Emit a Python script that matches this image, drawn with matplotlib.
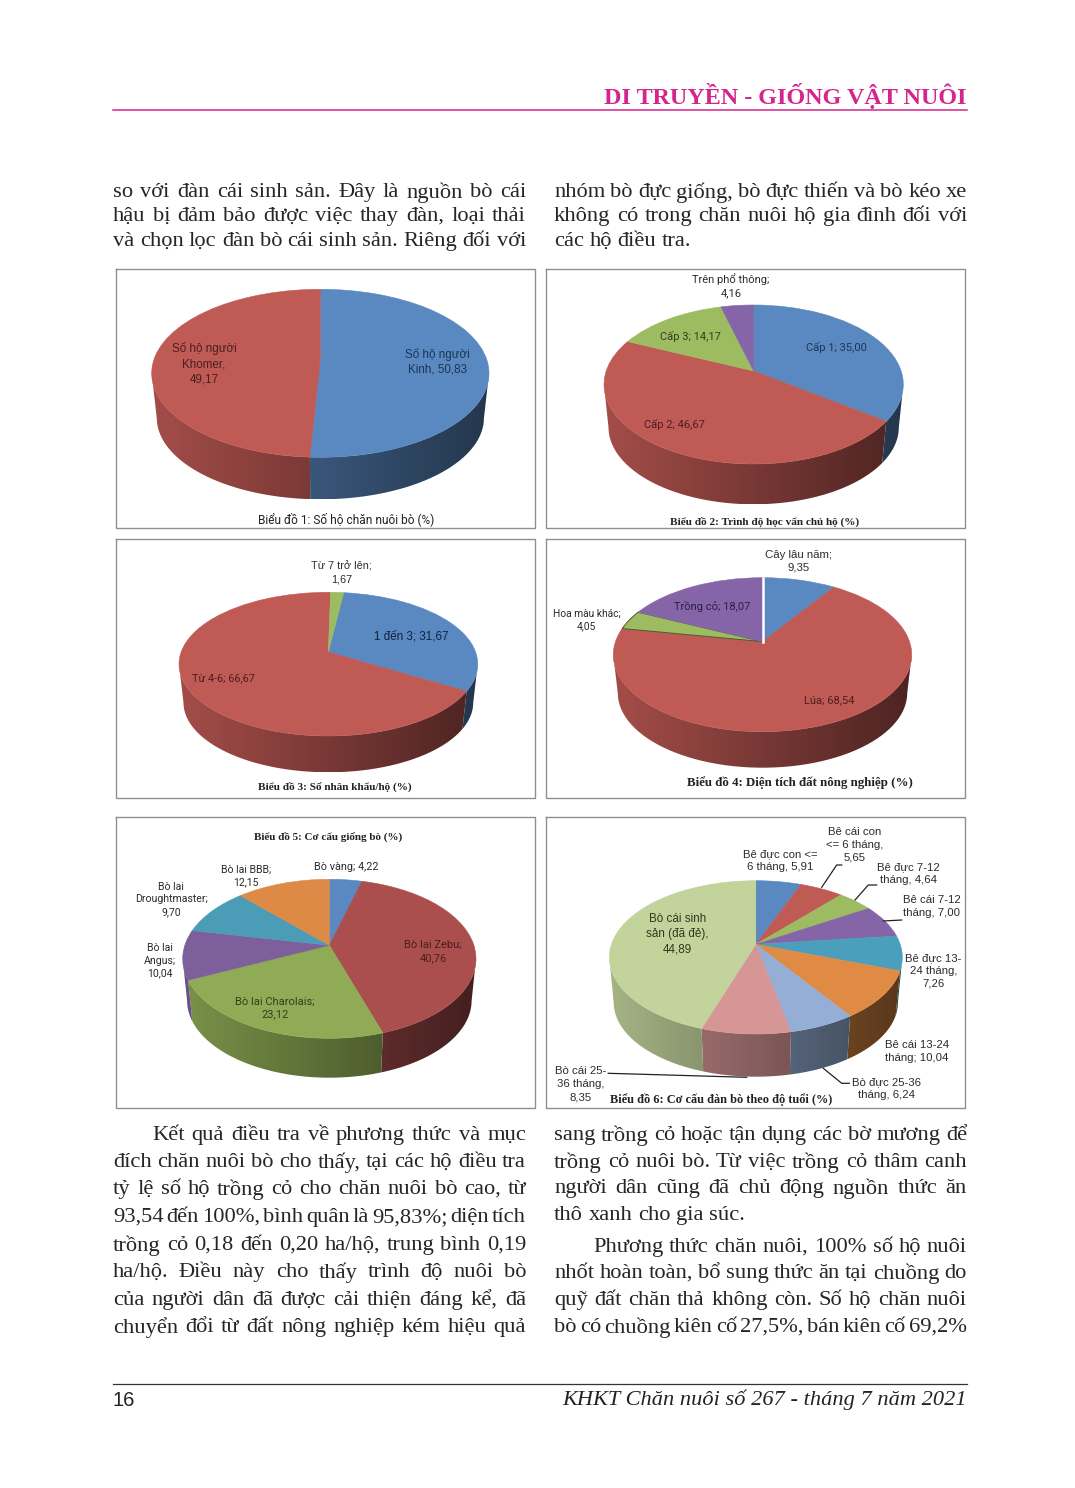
import numpy as np
import matplotlib
matplotlib.use('Agg')
import matplotlib.pyplot as plt
from matplotlib.patches import Polygon
from matplotlib.transforms import Transform, IdentityTransform

# page text
header_text = 'DI TRUYỀN - GIỐNG VẬT NUÔI'
footer_left = '16'
footer_right = 'KHKT Chăn nuôi số 267 - tháng 7 năm 2021'
top_col1 = ['so với đàn cái sinh sản. Đây là nguồn bò cái',
            'hậu bị đảm bảo được việc thay đàn, loại thải',
            'và chọn lọc đàn bò cái sinh sản. Riêng đối với']
top_col2 = ['nhóm bò đực giống, bò đực thiến và bò kéo xe',
            'không có trong chăn nuôi hộ gia đình đối với',
            'các hộ điều tra.']
bottom_col1 = ['Kết quả điều tra về phương thức và mục',
               'đích chăn nuôi bò cho thấy, tại các hộ điều tra',
               'tỷ lệ số hộ trồng cỏ cho chăn nuôi bò cao, từ',
               '93,54 đến 100%, bình quân là 95,83%; diện tích',
               'trồng cỏ 0,18 đến 0,20 ha/hộ, trung bình 0,19',
               'ha/hộ. Điều này cho thấy trình độ nuôi bò',
               'của người dân đã được cải thiện đáng kể, đã',
               'chuyển đổi từ đất nông nghiệp kém hiệu quả']
bottom_col2 = ['sang trồng cỏ hoặc tận dụng các bờ mương để',
               'trồng cỏ nuôi bò. Từ việc trồng cỏ thâm canh',
               'người dân cũng đã chủ động nguồn thức ăn',
               'thô xanh cho gia súc.',
               'Phương thức chăn nuôi, 100% số hộ nuôi',
               'nhốt hoàn toàn, bổ sung thức ăn tại chuồng do',
               'quỹ đất chăn thả không còn. Số hộ chăn nuôi',
               'bò có chuồng kiên cố 27,5%, bán kiên cố 69,2%']

# chart data
BLUE, RED, GREEN, PURPLE = '#5a88c0', '#c05a55', '#9dbb61', '#8565a8'
TEAL, ORANGE, LBLUE, PINK, LGREEN = '#4aa0bc', '#e08b45', '#95aed5', '#d69696', '#c2d39c'

values1 = [50.83, 49.17]
colors1 = [BLUE, RED]
values2 = [35.00, 46.67, 14.17, 4.16]
colors2 = [BLUE, RED, GREEN, PURPLE]
values3 = [31.67, 66.67, 1.67]
colors3 = [BLUE, RED, GREEN]
values4 = [9.35, 68.54, 4.05, 18.07]
colors4 = [BLUE, RED, GREEN, PURPLE]
values5 = [4.22, 40.76, 23.12, 10.04, 9.70, 12.15]
colors5 = [BLUE, '#aa4f4e', '#8fab55', '#7d5f9c', '#4b9cb6', '#dc8a45']
values6 = [5.91, 5.65, 4.64, 7.00, 7.26, 10.04, 6.24, 8.35, 44.89]
colors6 = [BLUE, RED, GREEN, PURPLE, TEAL, ORANGE, LBLUE, PINK, LGREEN]

# pie box on the page: left, right, top, bottom of top face, bottom of wall, first slice angle
boxes = [(151.7, 489.0, 289.3, 457.3, 499.3, 0),
         (604.0, 903.3, 305.0, 464.0, 504.3, 0),
         (179.0, 477.7, 592.3, 736.0, 772.3, 7),
         (613.3, 911.7, 577.7, 731.7, 767.7, 0),
         (182.7, 476.0, 879.3, 1038.3, 1077.7, 0),
         (609.3, 902.3, 880.7, 1034.0, 1076.7, 0)]
frames = [(116, 535, 269, 528), (546, 965, 269, 528),
          (116, 535, 539, 798), (546, 965, 539, 798),
          (116, 535, 817, 1108), (546, 965, 817, 1108)]

DARK_RED, DARK_BLUE, DARK = '#4a1f1e', '#1c3556', '#2b2b2b'
ARIAL, CALIBRI, SERIF = 'Liberation Sans', 'Roboto', 'Liberation Serif'

# text, x, y, colour, font, size
labels = [
    ('Số hộ người\nKhomer,\n49,17', 204, 364, DARK_RED, ARIAL, 8.4),
    ('Số hộ người\nKinh, 50,83', 437.7, 361.7, DARK_BLUE, ARIAL, 8.4),
    ('Trên phổ thông;\n4,16', 731, 285.7, DARK, CALIBRI, 8.0),
    ('Cấp 3; 14,17', 690.7, 336, '#33401c', CALIBRI, 8.0),
    ('Cấp 1; 35,00', 836.7, 347.7, DARK_BLUE, CALIBRI, 8.0),
    ('Cấp 2; 46,67', 674, 425, DARK_RED, CALIBRI, 8.0),
    ('Từ 7 trở lên;\n1,67', 341.7, 573, DARK, ARIAL, 7.8),
    ('1 đến 3; 31,67', 411.7, 636.7, '#10233f', ARIAL, 8.4),
    ('Từ 4-6; 66,67', 223, 678, DARK_RED, CALIBRI, 7.8),
    ('Cây lâu năm;\n9,35', 799, 561, DARK, ARIAL, 8.2),
    ('Trồng cỏ; 18,07', 711.7, 606.7, '#2e1f45', CALIBRI, 8.0),
    ('Hoa màu khác;\n4,05', 586.7, 620, DARK, CALIBRI, 7.4),
    ('Lúa; 68,54', 829.3, 700.7, DARK_RED, CALIBRI, 8.0),
    ('Bò vàng; 4,22', 346, 867.3, DARK, CALIBRI, 7.8),
    ('Bò lai BBB;\n12,15', 245.7, 876, DARK, CALIBRI, 7.6),
    ('Bò lai\nDroughtmaster;\n9,70', 171, 899.3, DARK, CALIBRI, 7.6),
    ('Bò lai\nAngus;\n10,04', 160, 960.7, DARK, CALIBRI, 7.6),
    ('Bò lai Zebu;\n40,76', 433.3, 951.7, DARK_RED, CALIBRI, 8.0),
    ('Bò lai Charolais;\n23,12', 275, 1008.3, '#33401c', CALIBRI, 8.0),
    ('Bê cái con\n<= 6 tháng,\n5,65', 855, 845, DARK, ARIAL, 8.2),
    ('Bê đực con <=\n6 tháng, 5,91', 780, 860.7, DARK, ARIAL, 8.2),
    ('Bê đực 7-12\ntháng, 4,64', 908.3, 873.3, DARK, ARIAL, 8.2),
    ('Bê cái 7-12\ntháng, 7,00', 931.7, 906.7, DARK, ARIAL, 8.2),
    ('Bê đực 13-\n24 tháng,\n7,26', 933.3, 971, DARK, ARIAL, 8.2),
    ('Bê cái 13-24\ntháng; 10,04', 916.7, 1051.7, DARK, ARIAL, 8.2),
    ('Bò đực 25-36\ntháng, 6,24', 886, 1088.3, DARK, ARIAL, 8.2),
    ('Bò cái 25-\n36 tháng,\n8,35', 580.7, 1084.3, DARK, ARIAL, 8.2),
    ('Bò cái sinh\nsản (đã đẻ),\n44,89', 677.7, 934, '#2f3a1c', ARIAL, 8.4),
]
# text, x, y, font, size, weight
captions = [
    ('Biểu đồ 1: Số hộ chăn nuôi bò (%)', 346, 519, CALIBRI, 8.6, 'normal'),
    ('Biểu đồ 2: Trình độ học vấn chủ hộ (%)', 765, 521.7, SERIF, 8.1, 'bold'),
    ('Biểu đồ 3: Số nhân khẩu/hộ (%)', 335, 786.7, SERIF, 8.1, 'bold'),
    ('Biểu đồ 4: Diện tích đất nông nghiệp (%)', 800, 782.3, SERIF, 9.3, 'bold'),
    ('Biểu đồ 5: Cơ cấu giống bò (%)', 328.3, 836.7, SERIF, 8.0, 'bold'),
    ('Biểu đồ 6: Cơ cấu đàn bò theo độ tuổi (%)', 721, 1100, SERIF, 8.85, 'bold'),
]
leaders = [([841.7, 836.7, 821.7], [865, 865, 887.3]),
           ([876.7, 868.3, 855], [885, 885, 900]),
           ([901.7, 883.3], [920, 921]),
           ([849.3, 841.7, 823.3], [1083.3, 1083.3, 1068.3]),
           ([608.3, 746.7], [1073.3, 1077.3])]

K = 0.17  # perspective of the tilted pie
SHRINK = 0.97  # bottom disc looks a bit smaller


class Tilt(Transform):
    input_dims = 2
    output_dims = 2

    def transform_non_affine(self, xy):
        xy = np.asarray(xy, dtype=float)
        w = 1 + K * xy[:, 1]
        return np.column_stack([xy[:, 0] / w * np.sqrt(1 - K**2), xy[:, 1] / w * (1 - K**2)])

    def get_affine(self):
        return IdentityTransform()


def tilt_arc(theta):
    t = np.radians(theta)
    return Tilt().transform_non_affine(np.column_stack([np.sin(t), np.cos(t)]))


def draw_pie(fig, values, colors, box):
    left, right, top, bottom, wall, start = box
    ry = (bottom - top) / 2
    depth = (wall - bottom) / ry
    ylow = -(1 + K) - depth
    ax = fig.add_axes([left / W, 1 - wall / H, (right - left) / W, (wall - top) / H])

    # side wall first, shaded from the left to the right
    shift = depth + (1 + K) * (1 - SHRINK)
    edges = start + np.concatenate([[0], np.cumsum(values)]) * 360 / np.sum(values)
    ramp = np.linspace(0.85, 0.40, 64)
    for i, col in enumerate(colors):
        for turn in (0, 360):
            a = max(edges[i], 100 + turn)
            b = min(edges[i + 1], 260 + turn)
            if b <= a:
                continue
            arc = tilt_arc(np.linspace(a, b, 60))
            low = arc * SHRINK - [0, shift]
            rgb = np.array(matplotlib.colors.to_rgb(col))
            grad = (ramp[:, None] * rgb)[None, :, :]
            im = ax.imshow(grad, extent=(-1, 1, ylow, 1 - K), aspect='auto', interpolation='bilinear')
            im.set_clip_path(Polygon(np.vstack([arc, low[::-1]]), transform=ax.transData))

    wedges, _ = ax.pie(values, colors=colors, startangle=90 - start, counterclock=False,
                       radius=1, center=(0, 0))
    for w in wedges:
        w.set_transform(Tilt() + ax.transData)
        w.set_clip_on(False)
        w.set_edgecolor(w.get_facecolor())
        w.set_linewidth(0.4)
    ax.set_aspect('auto')
    ax.set_xlim(-1, 1)
    ax.set_ylim(ylow, 1 - K)
    ax.axis('off')
    return ax, wedges


def write_line(page, line, x0, x1, y, justify=True, size=16.2):
    words = line.split(' ')
    items = [page.text(0, y, w, fontsize=size, family=SERIF, color='#262626', ha='left', va='center_baseline')
             for w in words]
    rend = fig.canvas.get_renderer()
    widths = [t.get_window_extent(rend).width for t in items]
    if justify and len(words) > 1:
        gap = (x1 - x0 - sum(widths)) / (len(words) - 1)
    else:
        gap = size * 0.34
    x = x0
    for t, wid in zip(items, widths):
        t.set_x(x)
        x += wid + gap


W, H = 1075, 1488
fig = plt.figure(figsize=(W / 100, H / 100), dpi=100, facecolor='white')

all_values = [values1, values2, values3, values4, values5, values6]
all_colors = [colors1, colors2, colors3, colors4, colors5, colors6]
pies = []
for vals, cols, box in zip(all_values, all_colors, boxes):
    pies.append(draw_pie(fig, vals, cols, box))

# chart 4 has darker edges round the small slice and a white gap at the top
ax4, wedges4 = pies[3]
wedges4[2].set_edgecolor('#4a5a2a')
wedges4[2].set_linewidth(0.7)
ax4.plot([0, 0], [0, 1 - K], color='white', lw=1.8, clip_on=False)

# everything else sits on a page axes in pixels
page = fig.add_axes([0, 0, 1, 1], zorder=5)
page.patch.set_alpha(0)
page.set_xlim(0, W)
page.set_ylim(H, 0)
page.axis('off')

for x0, x1, y0, y1 in frames:
    page.plot([x0, x1, x1, x0, x0], [y0, y0, y1, y1, y0], color='#8f8f8f', lw=1.0)

for txt, x, y, col, font, size in labels:
    page.text(x, y, txt, color=col, family=font, fontsize=size, ha='center', va='center', linespacing=1.35)
for txt, x, y, font, size, weight in captions:
    page.text(x, y, txt, color='#222222', family=font, fontsize=size, fontweight=weight, ha='center', va='center')
for xs, ys in leaders:
    page.plot(xs, ys, color='#222222', lw=0.9)

# header and footer
page.text(967, 96, header_text, color='#d6248d', family=SERIF, fontweight='bold', fontsize=17.4,
          ha='right', va='center')
page.plot([113, 967], [110, 110], color='#d6248d', lw=1.1)
page.plot([113, 967], [1384, 1384], color='#333333', lw=0.9)
page.text(113, 1400, footer_left, color='#222222', family=ARIAL, fontsize=14.5, ha='left', va='center')
page.text(967, 1400, footer_right, color='#222222', family=SERIF, style='italic', fontsize=16.1,
          ha='right', va='center')

# body columns
top_y = [190, 214, 239]
col1_y = [1133, 1160, 1187, 1215, 1243, 1270, 1298, 1325]
col2_y = [1133, 1160, 1186, 1213, 1245, 1271, 1298, 1325]
for line, y in zip(top_col1, top_y):
    write_line(page, line, 113, 526, y)
for i, (line, y) in enumerate(zip(top_col2, top_y)):
    write_line(page, line, 554, 967, y, justify=i < 2)
for i, (line, y) in enumerate(zip(bottom_col1, col1_y)):
    write_line(page, line, 152 if i == 0 else 113, 526, y)
for i, (line, y) in enumerate(zip(bottom_col2, col2_y)):
    write_line(page, line, 593 if i == 4 else 554, 967, y, justify=i != 3)

fig.savefig('out.png', dpi=100)
